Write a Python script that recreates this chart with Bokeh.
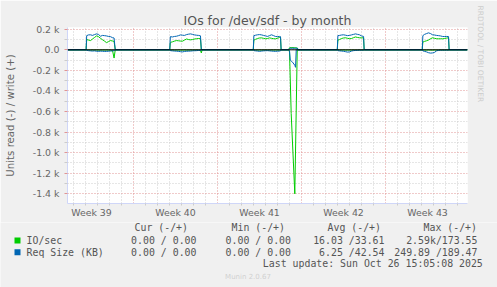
from bokeh.plotting import figure
from bokeh.layouts import column
from bokeh.models import Range1d, FixedTicker, Label, Span, Title
from bokeh.embed import file_html
from bokeh.resources import INLINE

# ---------------- data (x in days since left edge of the month graph) ----------------
week_labels = ["Week 39", "Week 40", "Week 41", "Week 42", "Week 43"]
week_centers = [2.0, 9.0, 16.0, 23.0, 30.0]
week_bounds = [5.5, 12.5, 19.5, 26.5]
day_lines = [0.5, 1.5, 2.5, 3.5, 4.5, 6.5, 7.5, 8.5, 9.5, 10.5, 11.5, 13.5, 14.5, 15.5,
             16.5, 17.5, 18.5, 20.5, 21.5, 22.5, 23.5, 24.5, 25.5, 27.5, 28.5, 29.5,
             30.5, 31.5, 32.5]
y_major = [200, 0, -200, -400, -600, -800, -1000, -1200, -1400]
y_minor = [100, -100, -300, -500, -700, -900, -1100, -1300]
y_labels = ["0.2 k", "0.0", "-0.2 k", "-0.4 k", "-0.6 k", "-0.8 k", "-1.0 k", "-1.2 k", "-1.4 k"]

# week 39 block
b1_x = [1.55, 1.60, 1.75, 1.92, 2.08, 2.25, 2.42, 2.58, 2.75, 2.92, 3.08, 3.25, 3.42, 3.58, 3.75, 3.88, 3.98]
b1_io_w = [0, 100, 95, 90, 105, 120, 135, 128, 112, 98, 85, 70, 80, 90, 86, 82, 0]
b1_io_r = [0, 2, 3, 3, 2, 3, 2, 3, 3, 2, 3, 2, 3, 4, 5, 80, 0]
b1_rq_w = [0, 138, 145, 146, 140, 148, 155, 150, 132, 140, 138, 135, 130, 128, 118, 115, 0]
b1_rq_r = [0, 5, 8, 10, 12, 10, 14, 15, 13, 14, 16, 15, 14, 12, 10, 8, 0]
# week 40 block
b2_x = [8.52, 8.57, 8.75, 8.92, 9.08, 9.25, 9.42, 9.58, 9.75, 9.92, 10.08, 10.25, 10.42, 10.58, 10.75, 10.92, 11.08, 11.15, 11.22]
b2_io_w = [0, 72, 78, 85, 90, 88, 85, 84, 95, 105, 100, 97, 100, 105, 108, 110, 108, 0, 0]
b2_io_r = [0, 2, 2, 3, 3, 2, 3, 3, 2, 3, 3, 2, 3, 3, 2, 3, 5, 30, 0]
b2_rq_w = [0, 128, 125, 130, 132, 138, 145, 142, 140, 148, 152, 155, 150, 145, 142, 140, 136, 0, 0]
b2_rq_r = [0, 8, 10, 12, 13, 15, 18, 20, 16, 14, 13, 12, 10, 9, 8, 6, 5, 0, 0]
# week 41 block
b3_x = [15.48, 15.53, 15.67, 15.83, 16.0, 16.17, 16.33, 16.5, 16.67, 16.83, 17.0, 17.17, 17.33, 17.5, 17.67, 17.75, 17.8]
b3_io_w = [0, 95, 102, 110, 115, 116, 112, 107, 110, 116, 112, 108, 107, 112, 120, 122, 0]
b3_io_r = [0, 2, 3, 3, 2, 3, 3, 2, 3, 3, 2, 3, 2, 3, 3, 3, 0]
b3_rq_w = [0, 138, 142, 146, 148, 145, 140, 135, 130, 138, 146, 138, 130, 128, 130, 128, 0]
b3_rq_r = [0, 8, 10, 12, 15, 12, 10, 9, 8, 10, 12, 14, 15, 13, 12, 10, 0]
# week 41 read burst
sp_io_x = [18.42, 18.5, 18.64, 18.94, 19.14, 19.2]
sp_io_w = [0, 20, 22, 20, 18, 0]
sp_io_r = [0, 20, 620, 1400, 20, 0]
sp_rq_x = [18.42, 18.5, 18.56, 18.75, 18.94, 19.0, 19.06, 19.17, 19.22]
sp_rq_w = [0, 12, 15, 15, 15, 15, 15, 15, 0]
sp_rq_r = [0, 10, 100, 120, 150, 170, 0, 0, 0]
# week 42 block
b4_x = [22.48, 22.53, 22.67, 22.83, 23.0, 23.17, 23.33, 23.5, 23.67, 23.83, 24.0, 24.17, 24.33, 24.5, 24.67, 24.72]
b4_io_w = [0, 95, 100, 110, 115, 117, 112, 108, 110, 118, 125, 120, 117, 116, 117, 0]
b4_io_r = [0, 2, 3, 3, 2, 3, 3, 2, 3, 2, 3, 3, 2, 3, 3, 0]
b4_rq_w = [0, 138, 140, 144, 146, 142, 138, 140, 145, 150, 155, 150, 146, 135, 130, 0]
b4_rq_r = [0, 8, 10, 12, 14, 18, 22, 20, 12, 8, 6, 5, 4, 4, 3, 0]
# week 43 block
b5_x = [29.56, 29.61, 29.75, 29.92, 30.08, 30.25, 30.42, 30.58, 30.75, 30.92, 31.08, 31.25, 31.42, 31.58, 31.75, 31.8]
b5_io_w = [0, 75, 82, 88, 95, 108, 117, 112, 108, 107, 108, 107, 110, 114, 117, 0]
b5_io_r = [0, 2, 3, 3, 2, 3, 3, 2, 3, 3, 2, 3, 3, 2, 3, 0]
b5_rq_w = [0, 138, 150, 158, 165, 158, 146, 144, 140, 138, 135, 130, 129, 130, 129, 0]
b5_rq_r = [0, 10, 15, 20, 28, 32, 30, 25, 10, 5, 4, 3, 3, 3, 3, 0]

x_start, x_end = 0.0, 33.33

io_x = [x_start] + b1_x + b2_x + b3_x + sp_io_x + b4_x + b5_x + [x_end]
io_write = [0] + b1_io_w + b2_io_w + b3_io_w + sp_io_w + b4_io_w + b5_io_w + [0]
io_read = [0] + b1_io_r + b2_io_r + b3_io_r + sp_io_r + b4_io_r + b5_io_r + [0]
rq_x = [x_start] + b1_x + b2_x + b3_x + sp_rq_x + b4_x + b5_x + [x_end]
rq_write = [0] + b1_rq_w + b2_rq_w + b3_rq_w + sp_rq_w + b4_rq_w + b5_rq_w + [0]
rq_read = [0] + b1_rq_r + b2_rq_r + b3_rq_r + sp_rq_r + b4_rq_r + b5_rq_r + [0]

legend_names = ["IO/sec", "Req Size (KB)"]
legend_colors = ["#00CC00", "#0066B3"]
col_heads = ["Cur (-/+)", "Min (-/+)", "Avg (-/+)", "Max (-/+)"]
cur_vals = ["0.00 / 0.00", "0.00 / 0.00"]
min_vals = ["0.00 / 0.00", "0.00 / 0.00"]
avg_vals = ["16.03 /33.61", "6.25 /42.54"]
max_vals = ["2.59k/173.55", "249.89 /189.47"]

# ---------------- layout ----------------
W = 497
H1 = 222            # chart part
H2 = 287 - H1       # legend part
FL, FT, FR, FB = 67, 27, 467, 203
FONT = "DejaVu Sans"
MONO = "DejaVu Sans Mono"
BG = "#F0F0F0"
MGRID = "#E09494"
GRID = "#CCCCCC"
AXIS = "#CFD6F8"

p = figure(width=W, height=H1, output_backend="svg", toolbar_location=None, tools="",
           x_range=Range1d(x_start, x_end), y_range=Range1d(-1494, 217),
           min_border_left=FL, min_border_right=W - FR, min_border_top=FT,
           min_border_bottom=H1 - FB, background_fill_color="white",
           border_fill_color=BG, outline_line_color=None)
p.frame_align = False

p.title.text = "IOs for /dev/sdf - by month"
p.title.align = "center"
p.title.offset = -18
p.title.standoff = 0
p.title.text_font = FONT
p.title.text_font_size = "12.5px"
p.title.text_font_style = "normal"
p.title.text_color = "#555555"

p.add_layout(Title(text="RRDTOOL / TOBI OETIKER", align="left", offset=-22, standoff=16,
                   text_font=FONT, text_font_size="7.5px", text_font_style="normal",
                   text_color="#CCCCCC"), "right")

# grids
p.xgrid.ticker = FixedTicker(ticks=week_bounds, minor_ticks=day_lines)
p.xgrid.grid_line_color = MGRID
p.xgrid.grid_line_dash = "1 2"
p.xgrid.minor_grid_line_color = GRID
p.xgrid.minor_grid_line_dash = "1 2"
p.ygrid.ticker = FixedTicker(ticks=y_major, minor_ticks=y_minor)
p.ygrid.grid_line_color = MGRID
p.ygrid.grid_line_dash = "1 2"
p.ygrid.minor_grid_line_color = GRID
p.ygrid.minor_grid_line_dash = "1 2"

# axes
p.xaxis.ticker = FixedTicker(ticks=week_centers, minor_ticks=day_lines)
p.xaxis.major_label_overrides = {c: l for c, l in zip(week_centers, week_labels)}
p.yaxis.ticker = FixedTicker(ticks=y_major, minor_ticks=y_minor)
p.yaxis.major_label_overrides = {v: l for v, l in zip(y_major, y_labels)}
for ax in (p.xaxis, p.yaxis):
    ax.axis_line_color = AXIS
    ax.major_label_text_font = FONT
    ax.major_label_text_font_size = "9.4px"
    ax.major_label_text_color = "#666666"
    ax.minor_tick_line_color = GRID
    ax.minor_tick_in = 0
    ax.major_tick_in = 0
p.xaxis.major_tick_line_color = None
p.xaxis.major_tick_out = 0
p.xaxis.minor_tick_out = 2
p.xaxis.major_label_standoff = 1
p.yaxis.major_tick_out = 3
p.yaxis.minor_tick_out = 3
p.yaxis.major_tick_line_color = MGRID
p.yaxis.major_label_standoff = 5
p.yaxis.axis_label = "Units read (-) / write (+)"
p.yaxis.axis_label_text_font = FONT
p.yaxis.axis_label_text_font_size = "10.2px"
p.yaxis.axis_label_text_font_style = "normal"
p.yaxis.axis_label_text_color = "#666666"
p.yaxis.axis_label_standoff = 14

# series
p.line(io_x, io_write, line_color=legend_colors[0], line_width=1)
p.line(io_x, [-v for v in io_read], line_color=legend_colors[0], line_width=1)
p.line(rq_x, rq_write, line_color=legend_colors[1], line_width=1)
p.line(rq_x, [-v for v in rq_read], line_color=legend_colors[1], line_width=1)

p.add_layout(Span(location=0, dimension="width", line_color="black", line_width=1))

# ---------------- legend strip (coordinates = page pixels) ----------------
q = figure(width=W, height=H2, output_backend="svg", toolbar_location=None, tools="",
           x_range=Range1d(0, W), y_range=Range1d(287, H1),
           min_border=0, min_border_left=0, min_border_right=0, min_border_top=0,
           min_border_bottom=0, x_axis_location=None, y_axis_location=None,
           background_fill_color=BG, border_fill_color=BG, outline_line_color=None)
q.frame_align = False
q.xgrid.visible = False
q.ygrid.visible = False


def lab(text, X, Y, size="9.9px", color="#555555", font=MONO, align="left"):
    q.add_layout(Label(x=X, y=Y, text=text, text_font=font, text_font_size=size,
                       text_color=color, text_align=align, text_baseline="middle"))


head_x = [134, 231, 327, 423]
for hx, h in zip(head_x, col_heads):
    lab(h, hx, 227.3)
rows_y = [240.0, 251.7]
for i in range(2):
    y = rows_y[i]
    q.quad(left=14, right=20, top=y - 3, bottom=y + 3, fill_color=legend_colors[i],
           line_color=None)
    lab(legend_names[i], 26, y)
    lab(cur_vals[i], 196, y, align="right")
    lab(min_vals[i], 290.5, y, align="right")
    lab(avg_vals[i], 384, y, align="right")
    lab(max_vals[i], 477, y, align="right")
lab("Last update: Sun Oct 26 15:05:08 2025", 482.3, 263.3, align="right")
lab("Munin 2.0.67", 247.5, 276, size="7px", color="#D0D0D0", font=FONT, align="center")

layout = column(p, q, spacing=0)
open("out.html", "w").write(file_html(layout, INLINE))
